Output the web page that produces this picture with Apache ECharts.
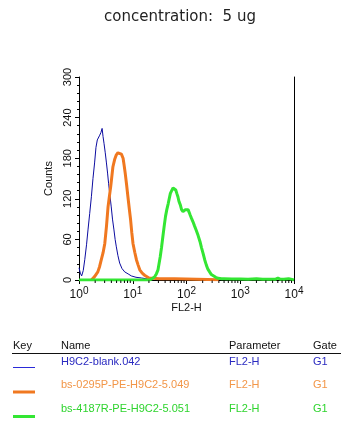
<!DOCTYPE html>
<html><head><meta charset="utf-8">
<script src="https://cdn.jsdelivr.net/npm/echarts@6/dist/echarts.min.js"></script>
<style>html,body{margin:0;padding:0;background:#fff}#c{width:360px;height:428px}</style>
</head><body><div id="c"></div>
<script>
// FL2-H channel values (x) and counts (y)
const blueX = [1.0, 1.06, 1.12, 1.2, 1.28, 1.38, 1.47, 1.58, 1.70, 1.82, 1.95, 2.07, 2.19, 2.3, 2.43, 2.56, 2.69, 2.8, 2.92, 3.08, 3.24, 3.4, 3.55, 3.75, 3.98, 4.2, 4.47, 4.7, 4.95, 5.3, 5.71, 6.3, 7.08, 8.2, 9.44, 11.5, 14.5, 17.5, 20, 22.4];
const blueY = [18, 10, 6, 14, 30, 52, 74, 98, 123, 150, 173, 196, 207, 209, 214, 218, 224, 212, 202, 188, 173, 158, 143, 126, 108, 90, 74, 60, 49, 36, 25, 17, 12, 9, 6, 4, 3, 2, 1, 0];
const orangeX = [1.70, 1.95, 2.24, 2.42, 2.60, 2.8, 3.02, 3.25, 3.47, 3.68, 3.89, 4.07, 4.27, 4.6, 4.95, 5.3, 5.71, 6.15, 6.61, 6.9, 7.24, 7.7, 8.13, 8.6, 9.12, 9.6, 10.1, 10.9, 11.7, 12.6, 13.5, 15, 16.6, 20, 31.6, 45, 60, 63, 400];
const orangeY = [0, 5, 12, 20, 30, 40, 54, 80, 108, 124, 138, 152, 167, 178, 185, 188, 189, 186, 180, 170, 158, 140, 123, 106, 89, 70, 54, 41, 30, 22, 15, 10, 7, 3, 2, 2, 2, 0.5, 0.5];
const greenX = [1.0, 20.7, 23, 25.7, 27.5, 29.5, 32.4, 34.3, 36.3, 38.5, 40.7, 43, 45.7, 50.1, 53, 56.2, 59.5, 63.1, 66, 69.2, 72.5, 76.7, 81, 86.1, 90, 95.5, 101, 107, 112, 117, 124, 132, 141, 151, 164, 178, 190, 204, 218, 234, 250, 269, 290, 309, 350, 389, 450, 500, 700, 1000, 1400, 2000, 2600, 3160, 4470, 5010, 5620, 6500, 7940, 10000];
const greenY = [0, 0, 2, 5, 9, 15, 34, 48, 64, 80, 94, 104, 113, 128, 132, 136, 135, 133, 128, 123, 116, 111, 104, 101, 103, 104, 106, 104, 100, 96, 91, 86, 80, 74, 66, 57, 48, 39, 30, 22, 16, 12, 8, 6, 4, 2.5, 2, 2, 1.5, 1.5, 1, 2, 1, 1, 1, 3, 1, 1, 2, 0];
const yTicks = [0, 60, 120, 180, 240, 300];
const xMinorTicks = [2, 3, 4, 5, 6, 7, 8, 9, 20, 30, 40, 50, 60, 70, 80, 90, 200, 300, 400, 500, 600, 700, 800, 900, 2000, 3000, 4000, 5000, 6000, 7000, 8000, 9000];
const keyHeaders = ['Key', 'Name', 'Parameter', 'Gate'];
const seriesNames = ['H9C2-blank.042', 'bs-0295P-PE-H9C2-5.049', 'bs-4187R-PE-H9C2-5.051'];
const seriesParams = ['FL2-H', 'FL2-H', 'FL2-H'];
const seriesGates = ['G1', 'G1', 'G1'];

const lineColors = ['#0c0ca0', '#f07820', '#33e633'];
const keyColors = ['#2a2ad8', '#f07820', '#33e633'];
const textColors = ['#2a2ac0', '#f29648', '#2ed42e'];
const lineWidths = [1, 3, 3];
const FONT = 'Liberation Sans';

const zip = (xs, ys) => xs.map((x, i) => [x, ys[i]]);

const chart = echarts.init(document.getElementById('c'), null, {renderer: 'canvas'});

const graphics = [];
const colX = [13, 61, 229, 313];
keyHeaders.forEach((h, i) => graphics.push({type: 'text', left: colX[i], top: 340, style: {text: h, fontFamily: FONT, fontSize: 11, fill: '#111'}}));
graphics.push({type: 'line', shape: {x1: 12, y1: 353.5, x2: 341, y2: 353.5}, style: {stroke: '#111', lineWidth: 1}});
const rowY = [362, 385, 409];
const keyY = [367.5, 392, 416.5];
seriesNames.forEach((n, i) => {
  graphics.push({type: 'line', shape: {x1: 13, y1: keyY[i], x2: 35, y2: keyY[i]}, style: {stroke: keyColors[i], lineWidth: lineWidths[i]}});
  graphics.push({type: 'text', left: 61, top: rowY[i] - 6, style: {text: n, fontFamily: FONT, fontSize: 11, fill: textColors[i]}});
  graphics.push({type: 'text', left: 229, top: rowY[i] - 6, style: {text: seriesParams[i], fontFamily: FONT, fontSize: 11, fill: textColors[i]}});
  graphics.push({type: 'text', left: 313, top: rowY[i] - 6, style: {text: seriesGates[i], fontFamily: FONT, fontSize: 11, fill: textColors[i]}});
});

chart.setOption({
  animation: false,
  backgroundColor: '#fff',
  title: {text: 'concentration:  5 ug', left: 'center', top: 5, textStyle: {fontFamily: 'DejaVu Sans', fontSize: 15, fontWeight: 'normal', color: '#222'}},
  grid: {left: 79, right: 66, top: 77, bottom: 148},
  xAxis: {
    type: 'log', logBase: 10, min: 1, max: 10000,
    name: 'FL2-H', nameLocation: 'middle', nameGap: 22,
    nameTextStyle: {fontFamily: FONT, fontSize: 11, color: '#111'},
    axisLine: {lineStyle: {color: '#000', width: 1}},
    axisTick: {show: true, length: 4, lineStyle: {color: '#000'}},
    splitLine: {show: false},
    axisLabel: {
      margin: 6, color: '#111',
      formatter: v => '{b|10}{s|' + Math.round(Math.log10(v)) + '}',
      rich: {b: {fontFamily: FONT, fontSize: 12, color: '#111'}, s: {fontFamily: FONT, fontSize: 10, color: '#111', padding: [0, 0, 8, 0]}}
    }
  },
  yAxis: [{
    type: 'value', min: 0, max: 300, interval: 60,
    name: 'Counts', nameLocation: 'middle', nameGap: 21, nameRotate: 90,
    nameTextStyle: {fontFamily: FONT, fontSize: 11, color: '#111'},
    axisLine: {show: true, lineStyle: {color: '#000', width: 1}},
    axisTick: {show: true, length: 4, lineStyle: {color: '#000'}},
    minorTick: {show: true, splitNumber: 5, length: 2, lineStyle: {color: '#000'}},
    splitLine: {show: false},
    axisLabel: {rotate: 90, margin: 6, fontFamily: FONT, fontSize: 11, color: '#111'}
  }, {
    type: 'value', min: 0, max: 300, position: 'right',
    axisLine: {show: true, lineStyle: {color: '#000', width: 1}},
    axisTick: {show: false}, axisLabel: {show: false}, splitLine: {show: false}
  }],
  series: [
    {type: 'line', name: seriesNames[0], data: zip(blueX, blueY), showSymbol: false, symbol: 'none', lineStyle: {color: lineColors[0], width: 1}, z: 2},
    {type: 'line', name: seriesNames[1], data: zip(orangeX, orangeY), showSymbol: false, symbol: 'none', lineStyle: {color: lineColors[1], width: 3}, z: 3},
    {type: 'line', name: seriesNames[2], data: zip(greenX, greenY), showSymbol: false, symbol: 'none', lineStyle: {color: lineColors[2], width: 3}, z: 4},
    {type: 'custom', name: 'minorTicks', data: xMinorTicks.map(v => [v, 0]), clip: false, z: 5,
      renderItem: (params, api) => {
        const p = api.coord([api.value(0), 0]);
        return {type: 'line', shape: {x1: p[0], y1: p[1] + 0.5, x2: p[0], y2: p[1] + 3}, style: {stroke: '#000', lineWidth: 1}};
      }}
  ],
  graphic: graphics
});
</script></body></html>
